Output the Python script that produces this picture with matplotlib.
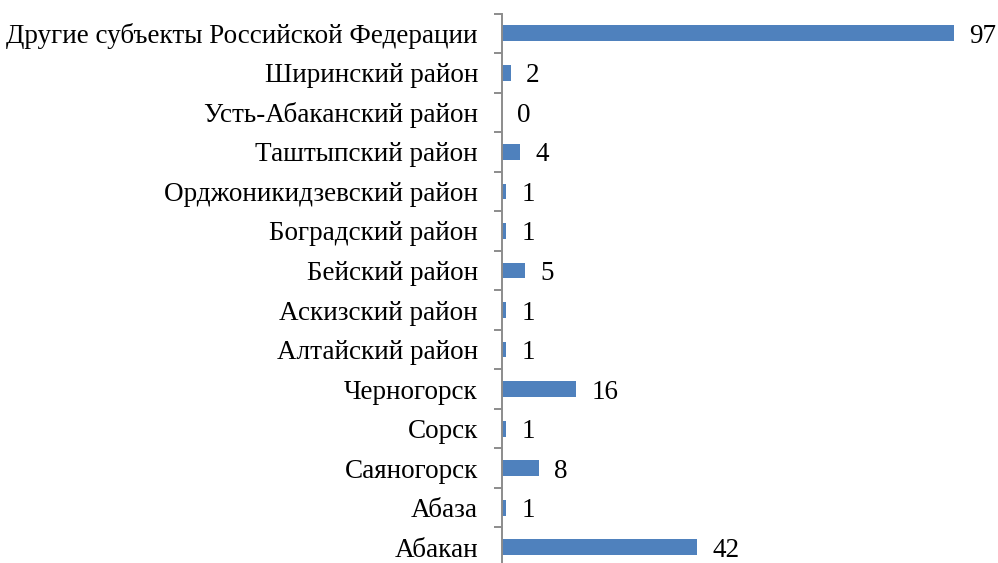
import matplotlib
matplotlib.use("Agg")
import matplotlib.pyplot as plt
import numpy as np

categories = ["Абакан", "Абаза", "Саяногорск", "Сорск", "Черногорск",
              "Алтайский район", "Аскизский район", "Бейский район",
              "Боградский район", "Орджоникидзевский район", "Таштыпский район",
              "Усть-Абаканский район", "Ширинский район",
              "Другие субъекты Российской Федерации"]
values = [42, 1, 8, 1, 16, 1, 1, 5, 1, 1, 4, 0, 2, 97]

plt.rcParams['font.family'] = ['Liberation Serif', 'DejaVu Serif']

W, H = 998, 563
fig = plt.figure(figsize=(W / 100, H / 100), dpi=100)
# axes placed in pixel terms: y axis at x=501.5, rows from y=13.5 to y=567
left, top, bottom = 501.5, 13.5, 567.0
ax = fig.add_axes([left / W, 1 - bottom / H, 466.5 / W, (bottom - top) / H])

y = np.arange(len(categories))
ax.barh(y, values, height=0.4, color="#4F81BD")
ax.set_xlim(0, 100)
ax.set_ylim(-0.5, len(categories) - 0.5)

for yi, v in zip(y, values):
    ax.annotate(str(v), (v, yi), xytext=(11, 0), textcoords="offset points",
                va="center_baseline", ha="left", fontsize=19.5, clip_on=False)

for s in ["top", "right", "bottom"]:
    ax.spines[s].set_visible(False)
ax.spines["left"].set_color("#8C8C8C")
ax.spines["left"].set_linewidth(1.4)

ax.set_xticks([])
ax.set_yticks(y)
ax.set_yticklabels(categories, fontsize=19.5, va="center_baseline")
ax.tick_params(axis="y", which="major", length=0, pad=17)
ax.set_yticks(np.arange(-0.5, len(categories), 1), minor=True)
ax.tick_params(axis="y", which="minor", length=5.5, color="#8C8C8C", width=1.4)

fig.savefig("out.png", dpi=100)
